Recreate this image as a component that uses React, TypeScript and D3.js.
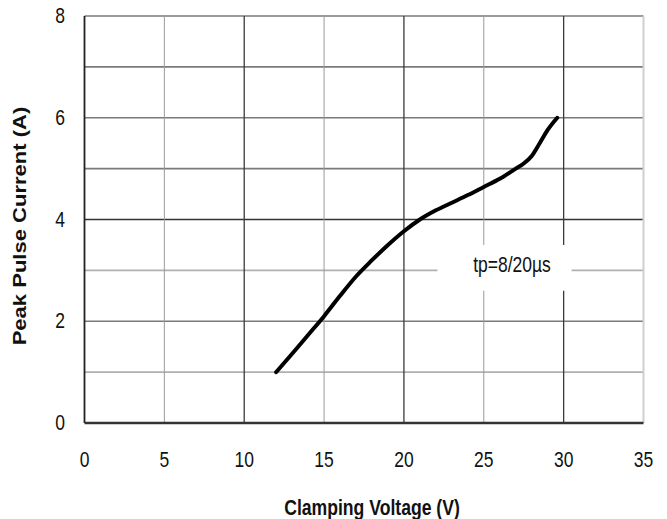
import React from 'react';
import * as d3 from 'd3';

// curve
const voltage = [12, 13, 14, 15, 16, 17, 18, 19, 20, 21, 22, 23, 24, 25, 26, 27, 27.5, 28, 28.5, 29, 29.6];
const current = [1.0, 1.36, 1.73, 2.1, 2.5, 2.88, 3.2, 3.5, 3.77, 4.0, 4.18, 4.33, 4.48, 4.64, 4.8, 5.0, 5.1, 5.25, 5.5, 5.76, 6.0];

const xTicks = [0, 5, 10, 15, 20, 25, 30, 35];
const yTicks = [0, 2, 4, 6, 8];
const yGrid = [1, 2, 3, 4, 5, 6, 7, 8];

const xTitle = 'Clamping Voltage (V)';
const yTitle = 'Peak Pulse Current (A)';
const note = 'tp=8/20µs';

const W = 667;
const H = 519;
const font = '"Liberation Sans", Arial, sans-serif';
// the source picture is stretched vertically, so text is too
const SY = 1.25;

function Label(props: { x: number; y: number; size: number; bold?: boolean; children: React.ReactNode }) {
  return (
    <text transform={`translate(${props.x},${props.y}) scale(1,${SY})`} textAnchor="middle"
      fontFamily={font} fontSize={props.size} fontWeight={props.bold ? 'bold' : 'normal'} fill="#111">
      {props.children}
    </text>
  );
}

export default function App() {
  const x = d3.scaleLinear().domain([0, 35]).range([84.5, 643.5]);
  const y = d3.scaleLinear().domain([0, 8]).range([423, 16]);

  const line = d3.line<number>()
    .x((_, i) => x(voltage[i]))
    .y(d => y(d))
    .curve(d3.curveMonotoneX);

  const vColor = (v: number) => (v % 10 === 0 ? '#3a3a3a' : '#9a9a9a');
  const hColor = (v: number) => (v === 4 ? '#333' : v === 1 || v === 3 ? '#b0b0b0' : '#7a7a7a');

  // white box behind the note
  const box = { x0: x(22.1), x1: x(30.5), y0: y(3.5), y1: y(2.6) };

  return (
    <svg width={W} height={H} style={{ position: 'absolute', left: 0, top: 0, background: '#fff' }}>
      {/* horizontal grid */}
      {yGrid.map(v => (
        <line key={'h' + v} x1={x(0)} x2={x(35)} y1={y(v)} y2={y(v)}
          stroke={hColor(v)} strokeWidth={v === 4 ? 1.5 : 1.7} />
      ))}
      {/* vertical grid */}
      {xTicks.slice(1, -1).map(v => (
        <line key={'v' + v} x1={x(v)} x2={x(v)} y1={y(0)} y2={y(8)}
          stroke={vColor(v)} strokeWidth={v % 10 === 0 ? 1.3 : 1} />
      ))}
      <line x1={x(35)} x2={x(35)} y1={y(0)} y2={y(8)} stroke="#d0d0d0" strokeWidth={2} />
      <rect x={box.x0} y={box.y0} width={box.x1 - box.x0} height={box.y1 - box.y0} fill="#fff" />

      {/* axes */}
      <line x1={x(0)} x2={x(0)} y1={y(0)} y2={y(8)} stroke="#222" strokeWidth={1.8} />
      <line x1={x(0)} x2={x(35)} y1={y(0)} y2={y(0)} stroke="#333" strokeWidth={2.5} />

      {/* curve */}
      <path d={line(current) ?? ''} fill="none" stroke="#000" strokeWidth={4}
        strokeLinecap="round" strokeLinejoin="round" />

      {/* ticks */}
      {xTicks.map(v => (
        <Label key={'xt' + v} x={x(v)} y={467} size={17.5}>{v}</Label>
      ))}
      {yTicks.map(v => (
        <Label key={'yt' + v} x={60} y={y(v) + 7} size={17.5}>{v}</Label>
      ))}

      <Label x={512} y={272} size={17.5}>{note}</Label>

      {/* titles */}
      <Label x={372} y={515} size={17.6} bold>{xTitle}</Label>
      <text transform={`translate(26,226) rotate(-90) scale(${SY * 0.98},1)`} textAnchor="middle"
        fontFamily={font} fontWeight="bold" fontSize={18} fill="#111">{yTitle}</text>
    </svg>
  );
}
